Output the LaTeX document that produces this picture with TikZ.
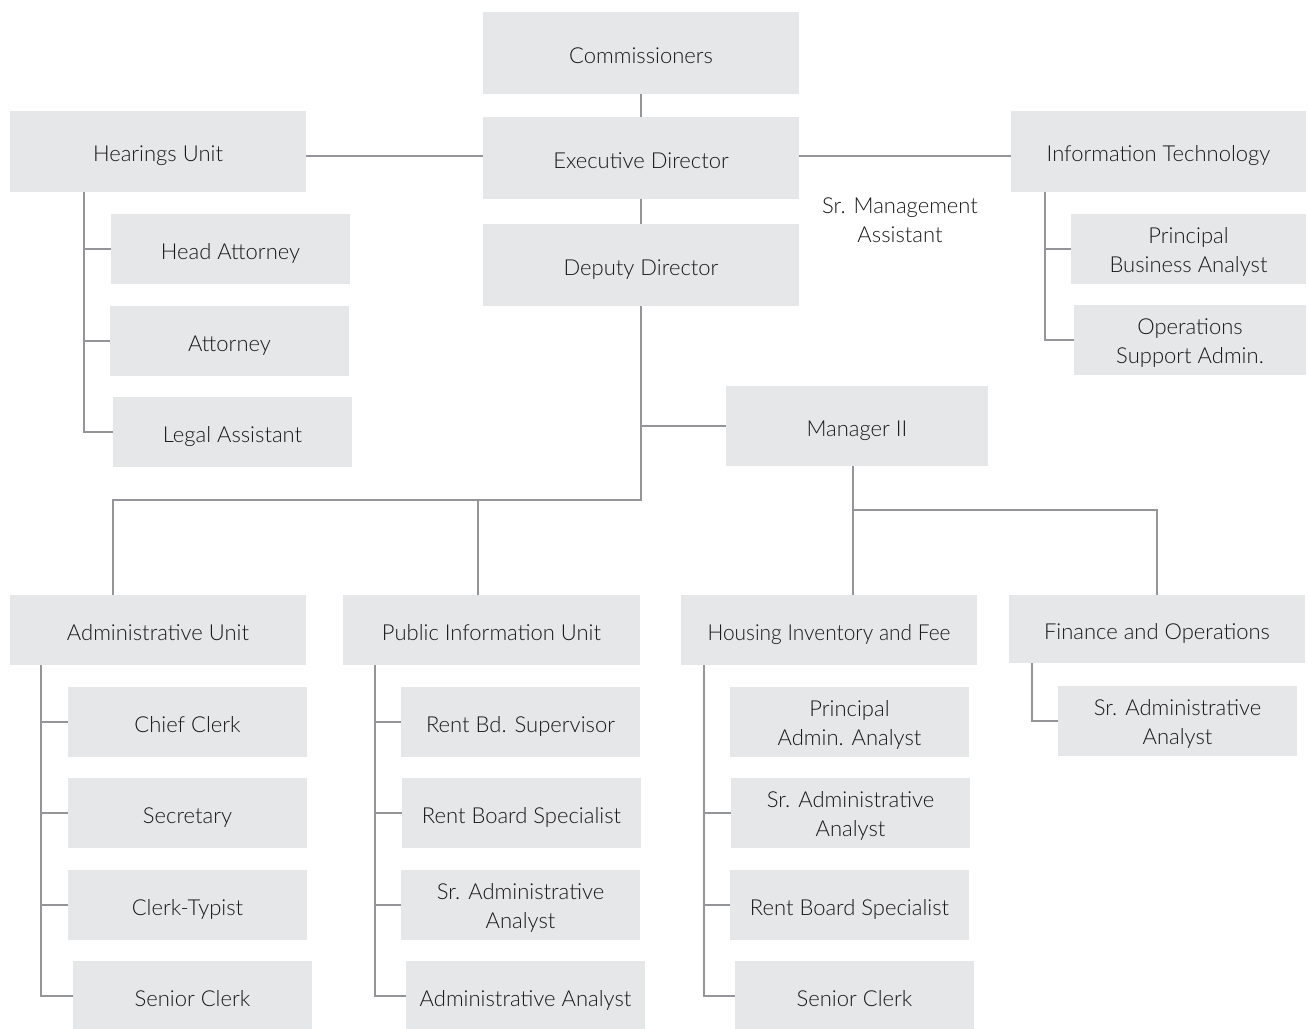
\documentclass[tikz,border=0pt]{standalone}
\usepackage{fontspec}
\usepackage{graphicx}
\setmainfont{Lato Light}
\usetikzlibrary{calc}
\definecolor{boxgray}{HTML}{E6E7E8}
\definecolor{linegray}{HTML}{939598}
\definecolor{txt}{HTML}{1A1718}
\tikzset{
  orgtext/.style={inner sep=0pt, align=center, text=txt,
    font=\fontsize{22}{29}\selectfont,
    execute at begin node={\rule[-5pt]{0pt}{30.8pt}},
    execute at end node={\rule[-5pt]{0pt}{5pt}}},
  twoline/.style={execute at begin node={\rule[-5pt]{0pt}{57.5pt}}},
  orgbox/.style={orgtext, fill=boxgray},
  bigbox/.style={orgbox, minimum width=#1, minimum height=82pt},
  unitbox/.style={orgbox, minimum width=296pt, minimum height=70pt},
  subbox/.style={orgbox, minimum width=239pt, minimum height=70pt},
  conn/.style={draw=linegray, line width=1.8pt}
}
\begin{document}
\begin{tikzpicture}[x=1pt,y=-1pt]
\useasboundingbox (0,0) rectangle (1308,1028);
% top
\node[bigbox=316pt] (comm) at (641,53) {Commissioners};
\node[bigbox=316pt] (exec) at (641,158) {Executive Director};
\node[bigbox=316pt] (dep) at (641,265) {Deputy Director};
\node[orgbox, minimum width=296pt, minimum height=81pt] (hear) at (158,151.5) {Hearings Unit};
\node[subbox] (head) at (230.5,249) {Head Attorney};
\node[subbox] (att) at (229.5,341) {Attorney};
\node[subbox] (legal) at (232.5,432) {Legal Assistant};
\node[orgbox, minimum width=295pt, minimum height=81pt] (it) at (1158.5,151.5) {Information Technology};
\node[orgbox, twoline, minimum width=235pt, minimum height=70pt] (pba) at (1188.5,249) {Principal\\Business Analyst};
\node[orgbox, twoline, minimum width=232pt, minimum height=70pt] (osa) at (1190,340) {Operations\\Support Admin.};
\node[orgtext, twoline] (srm) at (900,219) {Sr. Management\\Assistant};
\node[orgbox, minimum width=262pt, minimum height=80pt] (mgr) at (857,426) {Manager II};
% units
\node[unitbox] (adm) at (158,630) {Administrative Unit};
\node[orgbox, minimum width=297pt, minimum height=70pt] (pub) at (491.5,630) {Public Information Unit};
\node[unitbox] (hou) at (829,630) {\scalebox{0.95}[1]{Housing Inventory and Fee}};
\node[orgbox, minimum width=296pt, minimum height=68pt] (fin) at (1157,629) {Finance and Operations};
% admin children
\node[subbox] (cc) at (187.5,722) {Chief Clerk};
\node[subbox] (sec) at (187.5,813) {Secretary};
\node[subbox] (ct) at (187.5,905) {Clerk-Typist};
\node[subbox] (sc1) at (192.5,996) {Senior Clerk};
% public children
\node[subbox] (rbsup) at (520.5,722) {Rent Bd. Supervisor};
\node[subbox] (rbs1) at (521.5,813) {Rent Board Specialist};
\node[subbox, twoline] (saa1) at (520.5,905) {Sr. Administrative\\Analyst};
\node[subbox] (aa) at (525.5,996) {Administrative Analyst};
% housing children
\node[subbox, twoline] (paa) at (849.5,722) {Principal\\Admin. Analyst};
\node[subbox, twoline] (saa2) at (850.5,813) {Sr. Administrative\\Analyst};
\node[subbox] (rbs2) at (849.5,905) {Rent Board Specialist};
\node[subbox] (sc2) at (854.5,996) {Senior Clerk};
% finance child
\node[subbox, twoline] (saa3) at (1177.5,721) {Sr. Administrative\\Analyst};
% branch coordinates
\coordinate (ey) at (0,156);
\coordinate (hl) at (84,0);
\coordinate (il) at (1045,0);
\coordinate (al) at (41,0);
\coordinate (pl) at (375,0);
\coordinate (hol) at (704,0);
\coordinate (fl) at (1032,0);
\coordinate (bar) at (113,500);
\coordinate (pubdrop) at (478,500);
\coordinate (mdrop) at (853,0);
\coordinate (mbar) at (853,510);
% connectors
\draw[conn] (comm.south) -- (exec.north);
\draw[conn] (exec.south) -- (dep.north);
\draw[conn] (exec.west |- ey) -- (hear.east |- ey);
\draw[conn] (exec.east |- ey) -- (it.west |- ey);
\draw[conn] (hl |- hear.south) |- (legal.west);
\draw[conn] (hl |- head.west) -- (head.west);
\draw[conn] (hl |- att.west) -- (att.west);
\draw[conn] (il |- it.south) |- (osa.west);
\draw[conn] (il |- pba.west) -- (pba.west);
\draw[conn] (dep.south) |- (bar) -- (bar |- adm.north);
\draw[conn] (pubdrop) -- (pubdrop |- pub.north);
\draw[conn] (dep.south |- mgr.west) -- (mgr.west);
\draw[conn] (mdrop |- mgr.south) -- (mdrop |- hou.north);
\draw[conn] (mbar) -| (fin.north);
\draw[conn] (al |- adm.south) |- (sc1.west);
\draw[conn] (al |- cc.west) -- (cc.west);
\draw[conn] (al |- sec.west) -- (sec.west);
\draw[conn] (al |- ct.west) -- (ct.west);
\draw[conn] (pl |- pub.south) |- (aa.west);
\draw[conn] (pl |- rbsup.west) -- (rbsup.west);
\draw[conn] (pl |- rbs1.west) -- (rbs1.west);
\draw[conn] (pl |- saa1.west) -- (saa1.west);
\draw[conn] (hol |- hou.south) |- (sc2.west);
\draw[conn] (hol |- saa2.west) -- (saa2.west);
\draw[conn] (hol |- rbs2.west) -- (rbs2.west);
\draw[conn] (fl |- fin.south) |- (saa3.west);
\end{tikzpicture}
\end{document}
